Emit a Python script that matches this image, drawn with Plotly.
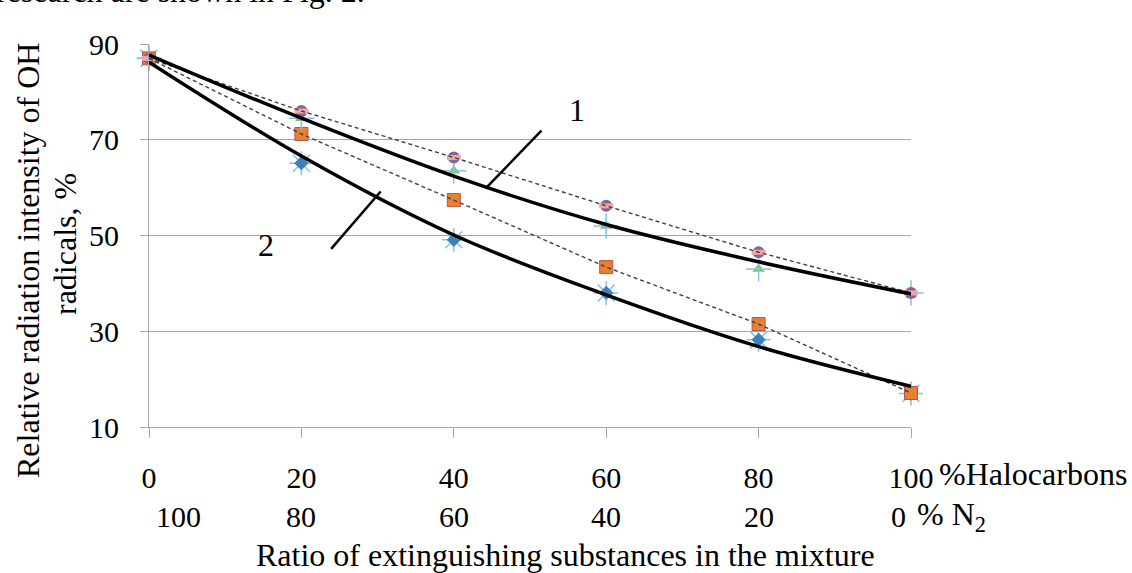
import plotly.graph_objects as go

# ---- data ----
x_vals = [0, 20, 40, 60, 80, 100]
n2_labels = ["100", "80", "60", "40", "20", "0"]
halo_labels = ["0", "20", "40", "60", "80", "100"]
y_ticks = [10, 30, 50, 70, 90]

diamond_y = [87, 65.1, 49.1, 38.0, 28.2, 17.0]
star_y = [87, 65.1, 49.1, 38.0, 28.2, 17.0]
square_y = [87, 71.2, 57.4, 43.4, 31.5, 17.1]
triangle_y = [87, 74.5, 63.5, 52.0, 43.0, 37.6]
plus_y = [87, 74.5, 63.5, 52.0, 43.0, 38.0]
circle_y = [87, 76.0, 66.3, 56.2, 46.5, 38.0]
dash_y = [87, 76.0, 66.3, 56.2, 46.5, 38.0]

curve1_y = [87.7, 74.5, 62.4, 52.3, 44.5, 37.8]
curve2_y = [86.2, 66.6, 50.1, 37.6, 26.8, 18.5]

FONT = "Liberation Serif"
GRID = "#A6A6A6"
FS = 32       # titles / text
FT = 30       # tick-like numbers

fig = go.Figure()

def markers(y, symbol, size, color, lcolor, lwidth):
    fig.add_trace(go.Scatter(
        x=x_vals, y=y, mode="markers", cliponaxis=False, showlegend=False,
        marker=dict(symbol=symbol, size=size, color=color,
                    line=dict(color=lcolor, width=lwidth))))

markers(star_y, "asterisk-open", 20, "#7CC5E6", "#7CC5E6", 1.5)
markers(diamond_y, "diamond", 11, "#3F7FC0", "#3F7FC0", 0)
markers(square_y, "square", 13, "#E5812F", "#C0504D", 1)
markers(triangle_y, "triangle-up", 11, "#9BBB59", "#9BBB59", 0)
markers(plus_y, "cross-thin-open", 18, "#7CC5E6", "#7CC5E6", 1.5)
markers(circle_y, "circle", 12, "#8064A2", "#8064A2", 0)
markers(dash_y, "line-ew-open", 10, "#F4A3A3", "#F4A3A3", 5)

# dashed connecting lines
for y in (circle_y, square_y):
    fig.add_trace(go.Scatter(x=x_vals, y=y, mode="lines", showlegend=False,
                             line=dict(color="#404040", width=1.4, dash="4px,3px")))

# thick fitted curves
for y in (curve1_y, curve2_y):
    fig.add_trace(go.Scatter(x=x_vals, y=y, mode="lines", showlegend=False,
                             cliponaxis=False,
                             line=dict(color="black", width=3.5, shape="spline", smoothing=1)))

# curve labels with leader lines
labels = [("1", 56.2, 76.2, 44.4, 60.2, 51.5, 71.9),
          ("2", 15.4, 48.0, 23.9, 47.2, 30.4, 59.2)]
for txt, tx, ty, x0, y0, x1, y1 in labels:
    fig.add_shape(type="line", x0=x0, y0=y0, x1=x1, y1=y1, xref="x", yref="y",
                  line=dict(color="black", width=2.5))
    fig.add_annotation(x=tx, y=ty, xref="x", yref="y", text=txt, showarrow=False,
                       font=dict(family=FONT, size=FS, color="black"))

# second row of x labels (% N2)
shifts = [29, 0, 0, 0, 0, -13]
for xv, lab, sh in zip(x_vals, n2_labels, shifts):
    fig.add_annotation(x=xv, y=0, xref="x", yref="paper", yshift=-89, xshift=sh,
                       text=lab, showarrow=False, yanchor="middle",
                       font=dict(family=FONT, size=FT, color="black"))

fig.add_annotation(x=1, y=0, xref="paper", yref="paper", xshift=26, yshift=-47,
                   text="%Halocarbons", showarrow=False, xanchor="left", yanchor="middle",
                   font=dict(family=FONT, size=FS, color="black"))
fig.add_annotation(x=1, y=0, xref="paper", yref="paper", xshift=4, yshift=-89,
                   text="% N<sub>2</sub>", showarrow=False, xanchor="left", yanchor="middle",
                   font=dict(family=FONT, size=FS, color="black"))

# y axis title (two lines)
fig.add_annotation(x=0, y=0, xref="paper", yref="paper", xshift=-121, yshift=166,
                   text="Relative radiation intensity of OH",
                   textangle=-90, showarrow=False, xanchor="center", yanchor="middle",
                   font=dict(family=FONT, size=FS, color="black"))
fig.add_annotation(x=0, y=0, xref="paper", yref="paper", xshift=-84, yshift=183,
                   text="radicals, %",
                   textangle=-90, showarrow=False, xanchor="center", yanchor="middle",
                   font=dict(family=FONT, size=FS, color="black"))
# x axis title
fig.add_annotation(x=0, y=0, xref="paper", yref="paper", xshift=416, yshift=-128,
                   text="Ratio of extinguishing substances in the mixture",
                   showarrow=False, xanchor="center", yanchor="middle",
                   font=dict(family=FONT, size=FS, color="black"))

# clipped text from the surrounding page
fig.add_annotation(x=0.286, y=1, xref="paper", yref="paper", yshift=33,
                   text="research are shown in Fig. 2.", showarrow=False,
                   xanchor="right", yanchor="bottom",
                   font=dict(family=FONT, size=FS, color="black"))

fig.update_xaxes(range=[0, 100], tickvals=x_vals, ticktext=halo_labels,
                 showgrid=False, showline=True, linecolor=GRID, linewidth=1,
                 ticks="outside", ticklen=10, tickcolor=GRID, tickwidth=1,
                 ticklabelstandoff=14, zeroline=False,
                 tickfont=dict(family=FONT, size=FT, color="black"))
fig.update_yaxes(range=[10, 90], tickvals=y_ticks,
                 showgrid=True, gridcolor=GRID, gridwidth=1,
                 showline=True, linecolor=GRID, linewidth=1,
                 ticks="outside", ticklen=8, tickcolor=GRID, tickwidth=1,
                 ticklabelstandoff=15, zeroline=False,
                 tickfont=dict(family=FONT, size=FT, color="black"))

fig.update_layout(width=1132, height=573, plot_bgcolor="white", paper_bgcolor="white",
                  margin=dict(l=149, r=221, t=44, b=146), showlegend=False)

fig.write_html("out.html", config={"displayModeBar": False},
               post_script="document.body.style.margin='0';")
